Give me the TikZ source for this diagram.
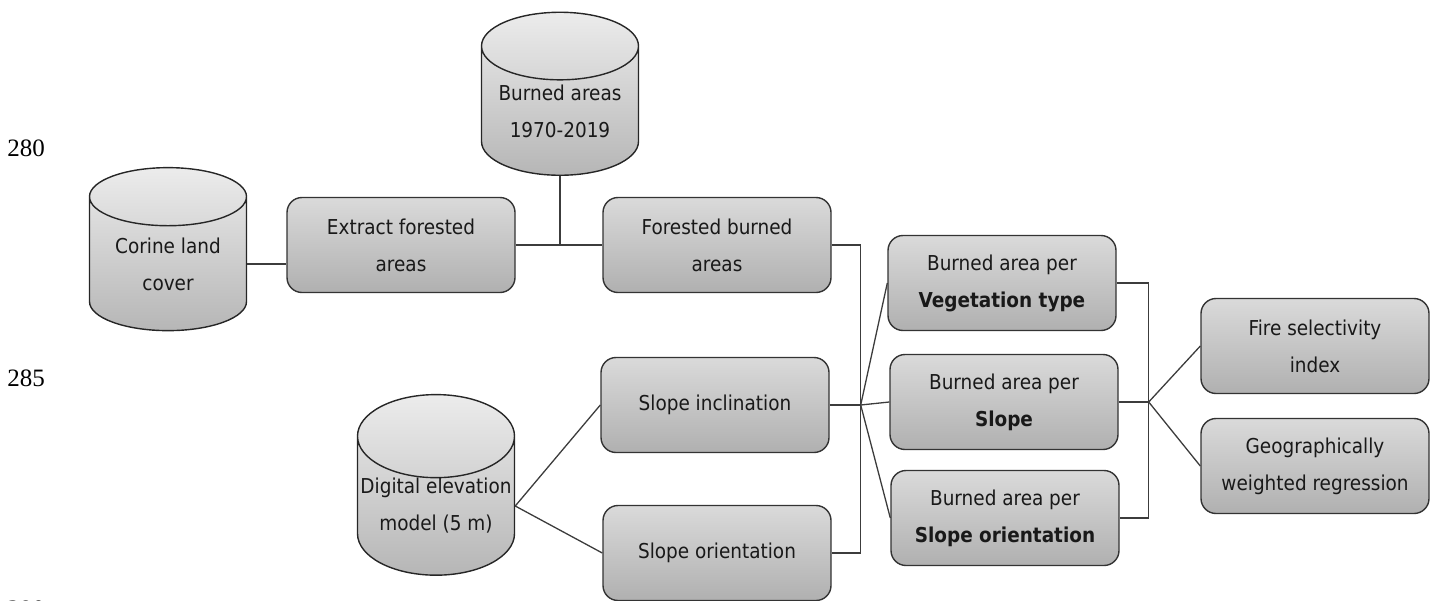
\documentclass[tikz,border=0pt]{standalone}
\usepackage{fontspec}
\setmainfont{DejaVu Sans Condensed}
\newfontfamily\numfont{Liberation Serif}
\usetikzlibrary{calc,shapes.geometric}
\definecolor{boxTop}{RGB}{218,218,218}
\definecolor{boxBottom}{RGB}{176,176,176}
\definecolor{cylTop}{RGB}{236,236,236}
\definecolor{cylBottom}{RGB}{182,182,182}
\definecolor{lineGray}{RGB}{60,60,60}
\tikzset{
  proc/.style={draw=black!80, line width=1.4pt, rounded corners=15pt, top color=boxTop, bottom color=boxBottom,
    minimum width=228pt, minimum height=95pt, align=center, inner sep=0pt, text=black!90,
    font=\fontsize{20.5}{37}\selectfont},
  data/.style={cylinder, shape border rotate=90, aspect=0.55, draw=black!85, line width=1.4pt,
    top color=cylTop, bottom color=cylBottom, minimum width=157pt, minimum height=163pt,
    align=center, inner sep=0pt, text=black!90, font=\fontsize{20.5}{37}\selectfont},
  link/.style={draw=lineGray, line width=1.3pt},
  linenum/.style={font=\numfont\fontsize{25}{25}\selectfont, inner sep=0pt}
}

\begin{document}
\begin{tikzpicture}[x=1pt,y=-1pt]
    \useasboundingbox (0,0) rectangle (1431,600);
    % line numbers of the page
    \node[linenum] (n280) at (26,148) {280};
    \node[linenum] (n285) at (26,378) {285};
    \node[linenum] (n290) at (26,609) {290};
    % input data
    \node[data] (corine) at (168,264) {Corine land\\cover};
    \node[data] (burned) at (560,111) {Burned areas\\1970-2019};
    \node[data] (dem) at (436,506) {Digital elevation\\model (5 m)};
    % processing steps
    \node[proc] (extract) at (401,245) {Extract forested\\areas};
    \node[proc] (forested) at (717,245) {Forested burned\\areas};
    \node[proc] (incl) at (715,405) {Slope inclination};
    \node[proc] (orient) at (717,553) {Slope orientation};
    \node[proc] (veg) at (1002,283) {Burned area per\\\textbf{Vegetation type}};
    \node[proc] (slope) at (1004,402) {Burned area per\\\textbf{Slope}};
    \node[proc] (sorient) at (1005,518) {Burned area per\\\textbf{Slope orientation}};
    \node[proc] (fire) at (1315,346) {Fire selectivity\\index};
    \node[proc] (gwr) at (1315,466) {Geographically\\weighted regression};
    % junctions
    \coordinate (j1) at (burned.south |- extract.east);
    \coordinate (j2) at ($(incl.east)+(31,0)$);
    \coordinate (j3) at ($(slope.east)+(30,0)$);
    \draw[link] (corine.east) -- (corine.east -| extract.west);
    \draw[link] (extract.east) -- (forested.west);
    \draw[link] (burned.south) -- (j1);
    \draw[link] (dem.east) -- (incl.west);
    \draw[link] (dem.east) -- (orient.west);
    \draw[link] (forested.east) -| (j2) |- (orient.east);
    \draw[link] (incl.east) -- (j2);
    \draw[link] (j2) -- (veg.west);
    \draw[link] (j2) -- (slope.west);
    \draw[link] (j2) -- (sorient.west);
    \draw[link] (veg.east) -| (j3) |- (sorient.east);
    \draw[link] (slope.east) -- (j3);
    \draw[link] (j3) -- (fire.west);
    \draw[link] (j3) -- (gwr.west);
\end{tikzpicture}
\end{document}
